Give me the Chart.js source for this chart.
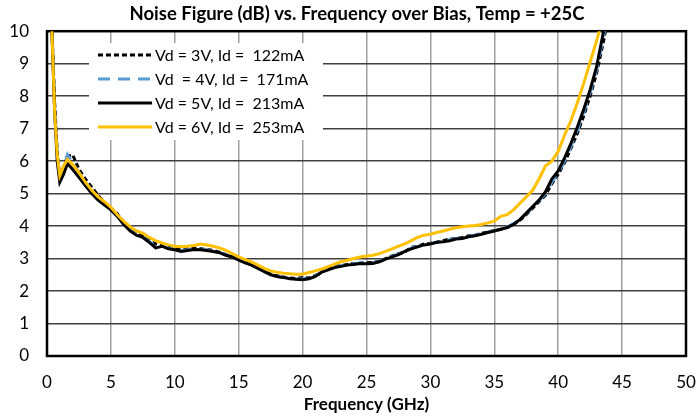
<!DOCTYPE html>
<html>
<head>
<meta charset="utf-8">
<script src="https://cdn.jsdelivr.net/npm/chart.js@4"></script>
<style>
  html, body { margin: 0; padding: 0; background: #fff; }
  #wrap { width: 698px; height: 417px; }
</style>
</head>
<body>
<div id="wrap"><canvas id="nfChart" width="698" height="417"></canvas></div>
<script>
// Noise figure vs frequency, four bias points

const freqGHz = [0.3, 0.6, 0.8, 1.0, 1.3, 1.6, 2, 2.5, 3, 3.5, 4, 4.5, 5, 5.5, 6, 6.5, 7, 7.5, 8, 8.5,
  9, 9.5, 10, 10.5, 11, 11.5, 12, 12.5, 13, 13.5, 14, 14.5, 15, 15.5, 16, 16.5, 17, 17.5, 18, 18.5,
  19, 19.5, 20, 20.5, 21, 21.5, 22, 22.5, 23, 23.5, 24, 24.5, 25, 25.5, 26, 26.5, 27, 27.5, 28, 28.5,
  29, 29.5, 30, 30.5, 31, 31.5, 32, 32.5, 33, 33.5, 34, 34.5, 35, 35.5, 36, 36.5, 37, 37.5, 38, 38.5,
  39, 39.5, 40, 40.5, 41, 41.5, 42, 42.5, 43, 43.5, 44];

const nf3V = [11, 7.8, 6.3, 5.5, 5.75, 6.15, 6.2, 5.75, 5.45, 5.2, 4.95, 4.72, 4.55, 4.38, 4.12, 3.9, 3.78, 3.7, 3.55, 3.45,
  3.4, 3.35, 3.32, 3.28, 3.3, 3.32, 3.3, 3.28, 3.25, 3.2, 3.12, 3.05, 2.97, 2.9, 2.82, 2.72, 2.62, 2.52, 2.47, 2.43,
  2.4, 2.38, 2.42, 2.4, 2.48, 2.6, 2.68, 2.75, 2.78, 2.82, 2.85, 2.86, 2.87, 2.88, 2.92, 3.0, 3.08, 3.15, 3.2, 3.35,
  3.38, 3.45, 3.47, 3.5, 3.55, 3.6, 3.62, 3.65, 3.7, 3.72, 3.78, 3.82, 3.86, 3.9, 3.95, 4.05, 4.18, 4.35, 4.55, 4.75,
  4.95, 5.3, 5.6, 5.95, 6.4, 6.85, 7.4, 8.0, 8.7, 9.6, 10.6];

const nf4V = [11, 7.6, 6.2, 5.45, 5.8, 6.2, 5.95, 5.65, 5.35, 5.1, 4.88, 4.7, 4.52, 4.33, 4.08, 3.88, 3.75, 3.68, 3.52, 3.4,
  3.38, 3.32, 3.3, 3.25, 3.27, 3.3, 3.28, 3.27, 3.23, 3.19, 3.11, 3.05, 2.96, 2.88, 2.81, 2.71, 2.61, 2.5, 2.45, 2.42,
  2.39, 2.37, 2.38, 2.4, 2.47, 2.59, 2.66, 2.73, 2.77, 2.81, 2.84, 2.86, 2.86, 2.87, 2.91, 2.99, 3.07, 3.14, 3.22, 3.32,
  3.37, 3.44, 3.46, 3.5, 3.54, 3.58, 3.62, 3.64, 3.69, 3.72, 3.77, 3.82, 3.86, 3.92, 3.97, 4.08, 4.2, 4.38, 4.58, 4.78,
  5.0, 5.35, 5.65, 6.0, 6.45, 6.95, 7.5, 8.1, 8.8, 9.75, 10.7];

const nf5V = [11, 7.5, 6.0, 5.35, 5.6, 5.93, 5.75, 5.5, 5.25, 5.0, 4.8, 4.65, 4.5, 4.3, 4.05, 3.85, 3.72, 3.65, 3.5, 3.33,
  3.38, 3.3, 3.27, 3.22, 3.25, 3.28, 3.27, 3.25, 3.22, 3.18, 3.1, 3.05, 2.95, 2.87, 2.8, 2.7, 2.6, 2.5, 2.45, 2.42,
  2.38, 2.36, 2.35, 2.38, 2.45, 2.58, 2.65, 2.72, 2.76, 2.8, 2.82, 2.85, 2.84, 2.85, 2.9, 2.98, 3.05, 3.12, 3.22, 3.3,
  3.36, 3.42, 3.45, 3.5, 3.52, 3.55, 3.6, 3.62, 3.67, 3.7, 3.75, 3.8, 3.85, 3.9, 3.95, 4.05, 4.2, 4.4, 4.6, 4.8,
  5.05, 5.45, 5.7, 6.1, 6.55, 7.05, 7.6, 8.2, 8.9, 9.9, 10.8];

const nf6V = [11, 7.5, 6.2, 5.55, 5.85, 6.05, 5.9, 5.65, 5.35, 5.1, 4.9, 4.75, 4.58, 4.35, 4.15, 3.98, 3.85, 3.78, 3.65, 3.55,
  3.48, 3.42, 3.38, 3.36, 3.38, 3.4, 3.45, 3.42, 3.38, 3.33, 3.25, 3.15, 3.05, 2.97, 2.9, 2.8, 2.7, 2.62, 2.58, 2.55,
  2.53, 2.52, 2.52, 2.57, 2.62, 2.68, 2.75, 2.83, 2.9, 2.95, 3.0, 3.05, 3.08, 3.1, 3.15, 3.22, 3.3, 3.38, 3.45, 3.55,
  3.65, 3.72, 3.75, 3.8, 3.85, 3.9, 3.95, 3.98, 4.0, 4.02, 4.05, 4.1, 4.15, 4.3, 4.35, 4.5, 4.7, 4.9, 5.1, 5.45,
  5.85, 6.0, 6.3, 6.8, 7.25, 7.8, 8.4, 9.05, 9.7, 10.4, 11];

const seriesLabels = ['Vd = 3V, Id =  122mA', 'Vd  = 4V, Id =  171mA', 'Vd = 5V, Id =  213mA', 'Vd = 6V, Id =  253mA'];
const seriesColors = ['#000000', '#5b9bd5', '#000000', '#ffc000'];
const seriesDash = [[5, 3], [12, 8], [], []];

const FONT = 'Lato, "Liberation Sans", sans-serif';

function toPoints(vals) {
  return vals.map((v, i) => ({ x: freqGHz[i], y: v }));
}

// white legend box inside the plot, plus the thick frame
const framePlugin = {
  id: 'frame',
  beforeDatasetsDraw(chart) {
    const { ctx, chartArea: a } = chart;
    ctx.save();
    ctx.strokeStyle = '#000';
    ctx.lineWidth = 2.5;
    ctx.strokeRect(a.left, a.top, a.right - a.left, a.bottom - a.top);

    // legend
    ctx.fillStyle = '#fff';
    ctx.fillRect(89, 43, 234, 97);
    const rows = [55, 79, 103, 127];
    ctx.font = '16px ' + FONT;
    ctx.textBaseline = 'middle';
    rows.forEach((y, i) => {
      ctx.beginPath();
      ctx.setLineDash(seriesDash[i]);
      ctx.strokeStyle = seriesColors[i];
      ctx.lineWidth = 3;
      ctx.moveTo(98, y);
      ctx.lineTo(152, y);
      ctx.stroke();
      ctx.setLineDash([]);
      ctx.fillStyle = '#000';
      ctx.fillText(seriesLabels[i], 155, y + 1);
    });
    ctx.restore();
  }
};

const allSeries = [nf3V, nf4V, nf5V, nf6V];

new Chart(document.getElementById('nfChart'), {
  type: 'line',
  data: {
    datasets: allSeries.map((vals, i) => ({
      label: seriesLabels[i],
      data: toPoints(vals),
      borderColor: seriesColors[i],
      borderDash: seriesDash[i],
      borderWidth: 3,
      pointRadius: 0,
      tension: 0,
      fill: false,
      order: 4 - i
    }))
  },
  options: {
    responsive: false,
    animation: false,
    // negative right padding just nudges the title centre to the right
    layout: { padding: { left: 0, right: -16, top: 0, bottom: 0 } },
    plugins: {
      legend: { display: false },
      tooltip: { enabled: false },
      title: {
        display: true,
        text: 'Noise Figure (dB) vs. Frequency over Bias, Temp = +25C',
        color: '#000',
        font: { family: FONT, size: 18.5, weight: 'bold' },
        padding: { top: 3, bottom: 6 }
      }
    },
    scales: {
      x: {
        type: 'linear',
        min: 0,
        max: 50,
        ticks: {
          stepSize: 5,
          color: '#000',
          padding: 16,
          maxRotation: 0,
          font: { family: FONT, size: 17 }
        },
        grid: { color: '#a0a0a0', lineWidth: 1.5, drawTicks: false },
        border: { display: false },
        title: {
          display: true,
          text: 'Frequency (GHz)',
          color: '#000',
          font: { family: FONT, size: 17, weight: 'bold' },
          padding: { top: 0, bottom: 2 }
        },
        afterFit(scale) {
          scale.height = 61;
          // fixed overhang so the plot ends where the original does
          scale.paddingLeft = 0;
          scale.paddingRight = 12;
        }
      },
      y: {
        min: 0,
        max: 10,
        ticks: {
          stepSize: 1,
          color: '#000',
          padding: 18,
          font: { family: FONT, size: 17 }
        },
        grid: { color: '#404040', lineWidth: 1.5, drawTicks: false },
        border: { display: false },
        afterFit(scale) { scale.width = 47; }
      }
    }
  },
  plugins: [framePlugin]
});
</script>
</body>
</html>
